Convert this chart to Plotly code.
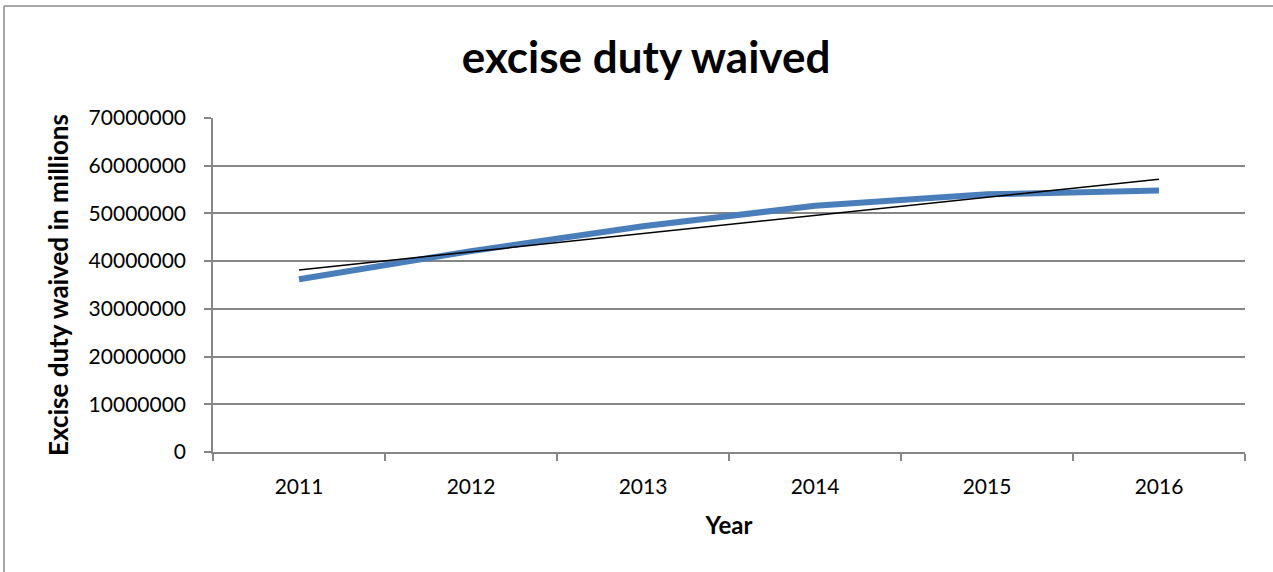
import numpy as np
import plotly.graph_objects as go

# Excise duty waived per year
years = ["2011", "2012", "2013", "2014", "2015", "2016"]
duty_waived = [36200000, 42100000, 47300000, 51600000, 54000000, 54800000]
y_ticks = [0, 10000000, 20000000, 30000000, 40000000, 50000000, 60000000, 70000000]

# Linear trend line fitted to the series
idx = np.arange(len(years))
slope, intercept = np.polyfit(idx, duty_waived, 1)
trend = slope * idx + intercept

FONT = "Lato"
GRID = "#868686"

fig = go.Figure()
fig.add_trace(go.Scatter(
    x=years, y=duty_waived, mode="lines",
    line=dict(color="#4A7EBB", width=6),
    showlegend=False,
))
fig.add_trace(go.Scatter(
    x=years, y=trend, mode="lines",
    line=dict(color="black", width=1.5),
    showlegend=False,
))

fig.update_layout(
    width=1273, height=572,
    margin=dict(l=213, r=28, t=118, b=120),
    paper_bgcolor="white", plot_bgcolor="white",
    font=dict(family=FONT, color="black"),
    title=dict(
        text="<b>excise duty waived</b>",
        font=dict(family=FONT, size=44, color="black"),
        x=0.5075, xanchor="center", xref="container",
        y=0.90, yanchor="middle", yref="container",
    ),
    xaxis=dict(
        type="category", range=[-0.5, 5.5],
        tickson="boundaries", ticks="outside", ticklen=7, tickwidth=1.5, tickcolor=GRID,
        showline=True, linecolor=GRID, linewidth=1.5,
        showgrid=False,
        tickfont=dict(family=FONT, size=21, color="black"),
        ticklabelstandoff=15,
        title=dict(text="<b>Year</b>", font=dict(family=FONT, size=24, color="black"), standoff=20),
    ),
    yaxis=dict(
        range=[0, 70000000], tickvals=y_ticks, ticktext=[str(v) for v in y_ticks],
        ticks="outside", ticklen=7, tickwidth=1.5, tickcolor=GRID,
        showline=True, linecolor=GRID, linewidth=1.5,
        showgrid=True, gridcolor=GRID, gridwidth=1.5,
        zeroline=False,
        tickfont=dict(family=FONT, size=21, color="black"),
        ticklabelstandoff=14,
        title=dict(text="<b>Excise duty waived in millions</b>",
                   font=dict(family=FONT, size=26, color="black"), standoff=12),
    ),
)

# Chart-area frame (top and left edges visible)
fig.add_shape(type="line", xref="paper", yref="paper",
              x0=-0.2025, x1=1.1, y0=1.335, y1=1.335,
              line=dict(color="#8C8C8C", width=1.5))
fig.add_shape(type="line", xref="paper", yref="paper",
              x0=-0.2025, x1=-0.2025, y0=1.335, y1=-0.5,
              line=dict(color="#8C8C8C", width=1.5))

fig.write_html("out.html")
